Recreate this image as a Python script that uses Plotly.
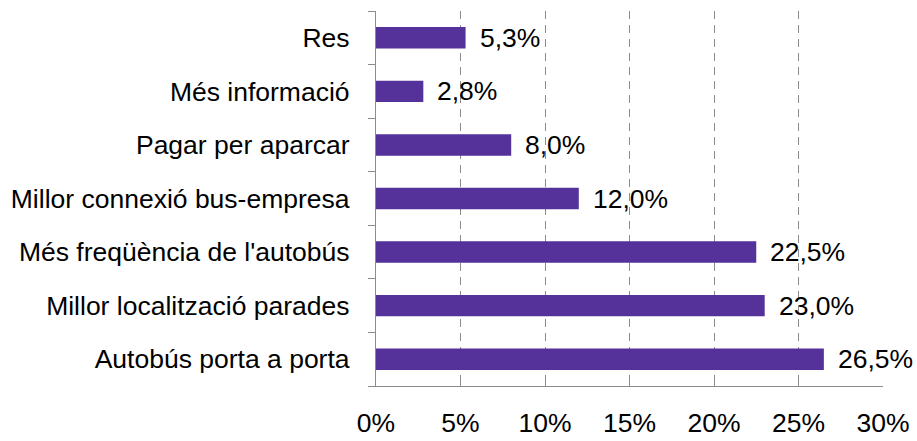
import plotly.graph_objects as go

categories = [
    "Autobús porta a porta",
    "Millor localització parades",
    "Més freqüència de l'autobús",
    "Millor connexió bus-empresa",
    "Pagar per aparcar",
    "Més informació",
    "Res",
]
values = [26.5, 23.0, 22.5, 12.0, 8.0, 2.8, 5.3]
tick_vals = [0, 5, 10, 15, 20, 25, 30]
tick_text = ["0%", "5%", "10%", "15%", "20%", "25%", "30%"]

bar_color = "#55319A"
axis_color = "#8C8C8C"
font_family = "Liberation Sans, Arial, sans-serif"
font_size = 26.5

fig = go.Figure()
fig.add_trace(go.Bar(
    x=values,
    y=categories,
    orientation="h",
    marker=dict(color=bar_color, line=dict(width=0)),
    width=0.4,
    hoverinfo="skip",
))

# value labels placed just right of each bar end
for cat, v in zip(categories, values):
    fig.add_annotation(
        x=v, y=cat, xref="x", yref="y",
        text=f"{v:.1f}%".replace(".", ","),
        showarrow=False, xanchor="left", yanchor="middle",
        xshift=12, font=dict(size=font_size, color="#000000", family=font_family),
    )

fig.update_layout(
    width=917, height=441,
    margin=dict(l=376, r=34, t=11, b=55),
    plot_bgcolor="white", paper_bgcolor="white",
    showlegend=False,
    font=dict(family=font_family, size=font_size, color="#000000"),
    xaxis=dict(
        range=[0, 30],
        tickvals=tick_vals, ticktext=tick_text,
        showgrid=True, gridcolor=axis_color, griddash="8px,6px", gridwidth=1.3,
        zeroline=False,
        showline=True, linecolor=axis_color, linewidth=1.3,
        ticks="inside", ticklen=6, tickcolor=axis_color, tickwidth=1.3,
        ticklabelstandoff=13,
        tickfont=dict(size=font_size),
        automargin=False,
        fixedrange=True,
    ),
    yaxis=dict(
        categoryorder="array", categoryarray=categories,
        showgrid=False, zeroline=False,
        showline=True, linecolor=axis_color, linewidth=1.3,
        ticks="outside", ticklen=7, tickcolor=axis_color, tickwidth=1.3,
        tickson="boundaries",
        ticklabelstandoff=20,
        tickfont=dict(size=font_size),
        automargin=False,
        fixedrange=True,
    ),
)

fig.write_html("out.html")
